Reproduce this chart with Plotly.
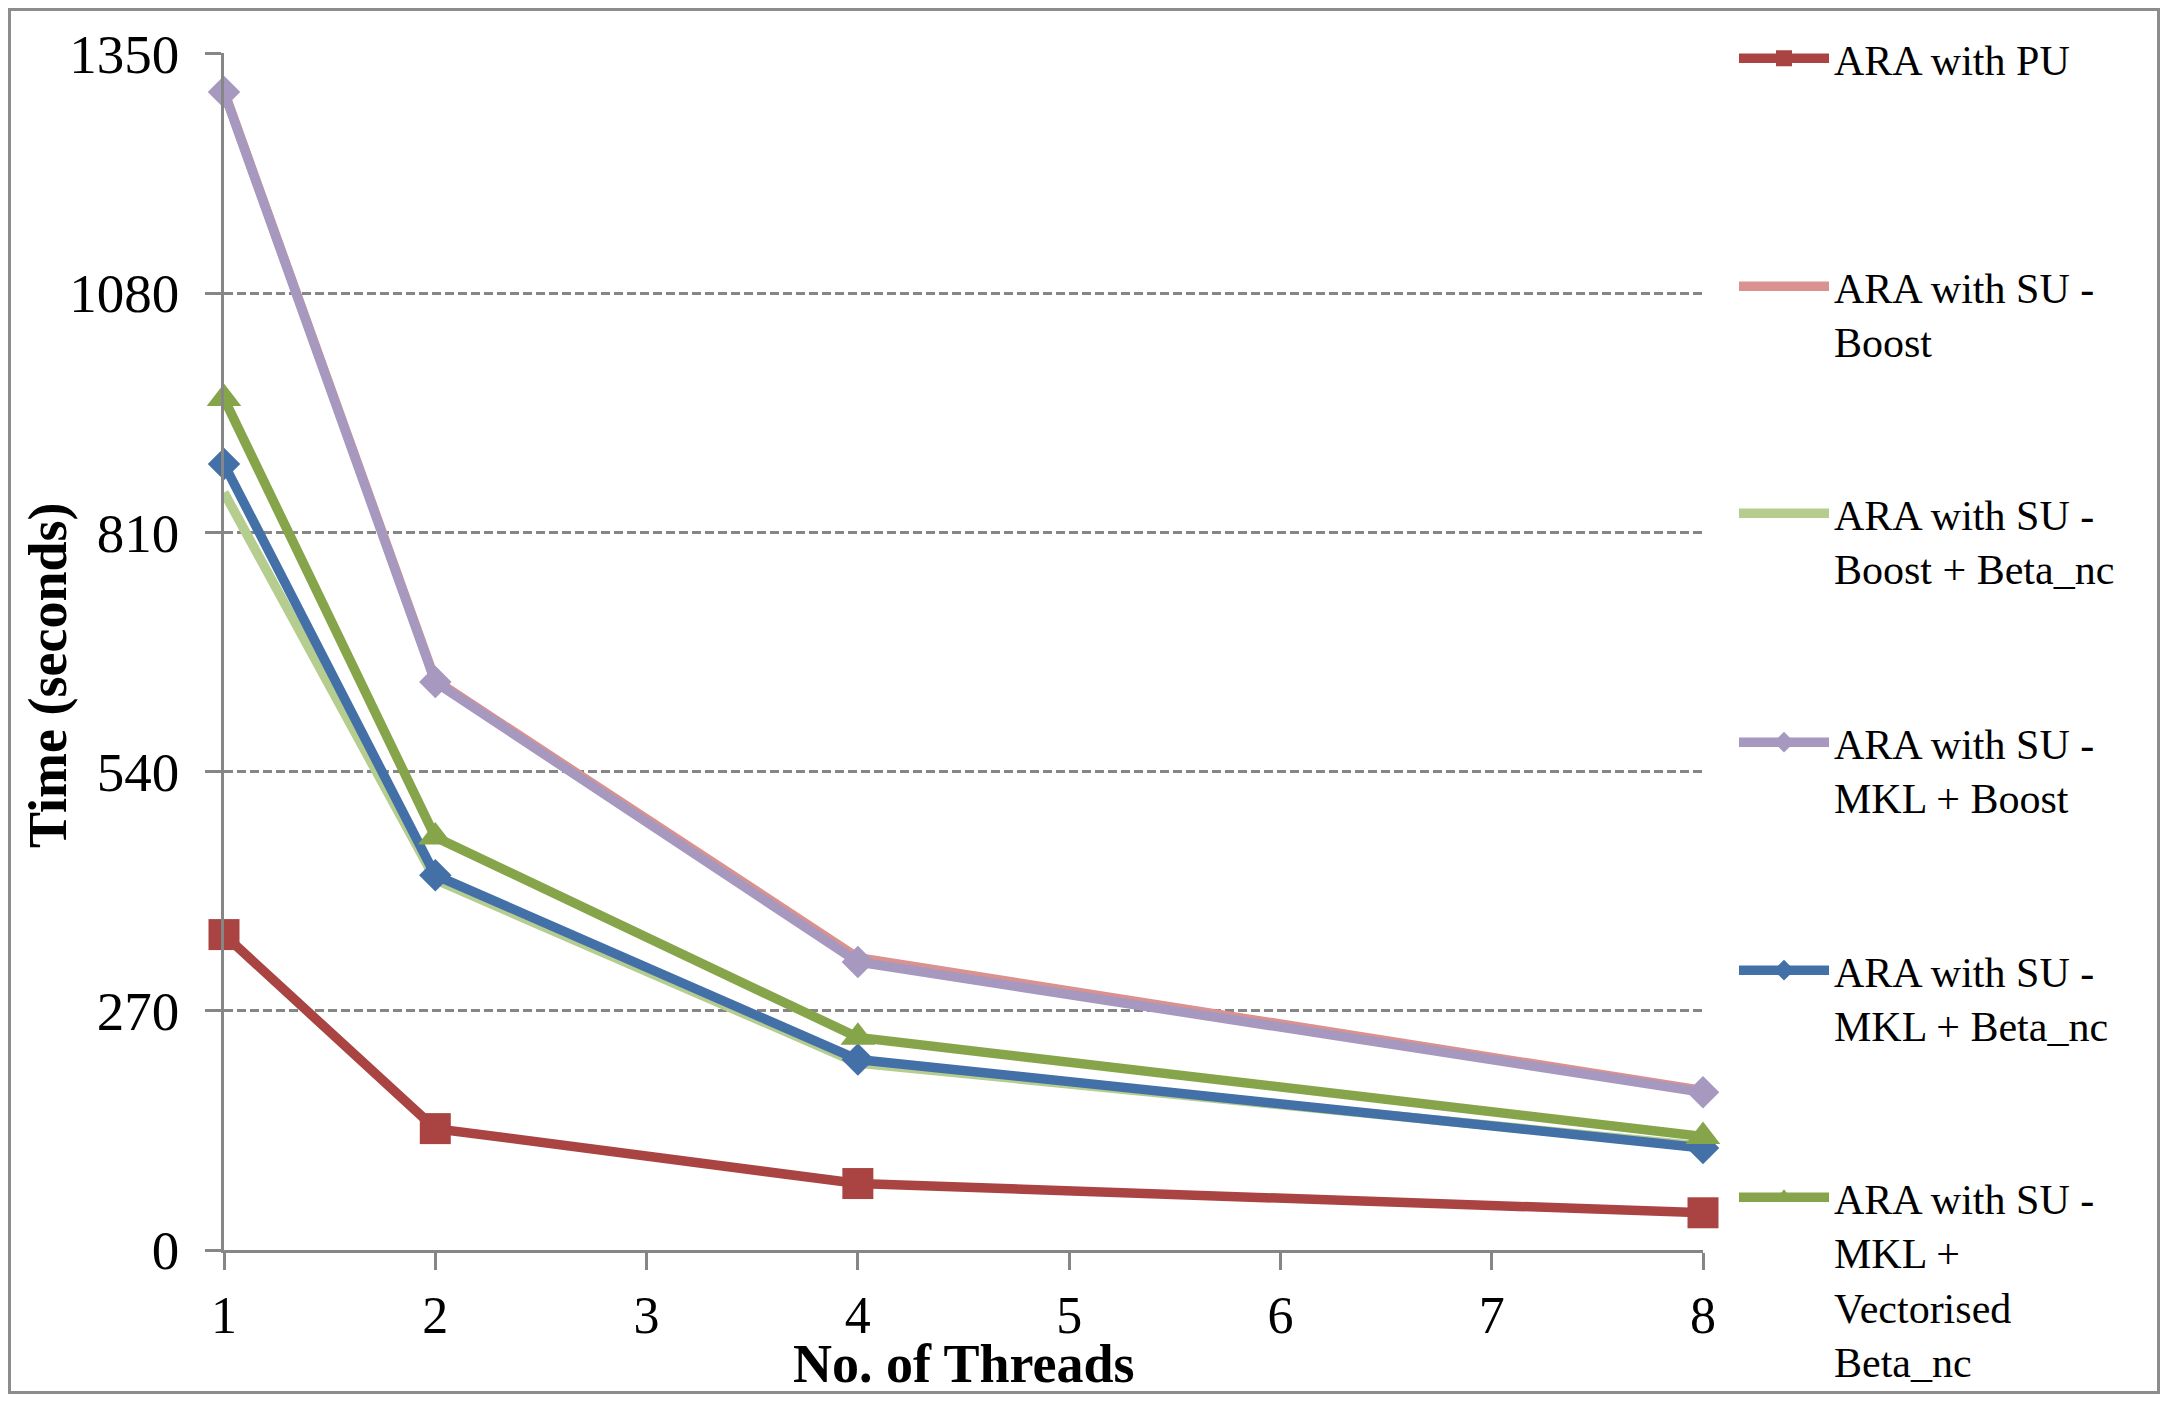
import plotly.graph_objects as go

# ---- data ----
threads = [1, 2, 4, 8]
series_names = [
    "ARA with PU",
    "ARA with SU -<br>Boost",
    "ARA with SU -<br>Boost + Beta_nc",
    "ARA with SU -<br>MKL + Boost",
    "ARA with SU -<br>MKL + Beta_nc",
    "ARA with SU -<br>MKL +<br>Vectorised<br>Beta_nc",
]
ara_pu = [356, 137, 75, 42]
su_boost = [1308, 643, 330, 180]
su_boost_beta = [855, 418, 211, 117]
su_mkl_boost = [1307, 641, 325, 178]
su_mkl_beta = [887, 423, 215, 115]
su_mkl_vec_beta = [961, 466, 240, 128]
x_ticks = [1, 2, 3, 4, 5, 6, 7, 8]
y_ticks = [0, 270, 540, 810, 1080, 1350]

values = [ara_pu, su_boost, su_boost_beta, su_mkl_boost, su_mkl_beta, su_mkl_vec_beta]
colors = ["#A94442", "#D99290", "#B5CD8F", "#A698BE", "#4470A8", "#86A54A"]
symbols = ["square", None, None, "diamond", "diamond", "triangle-up"]
msizes = [31, 0, 0, 25, 25, 30]

FONT = "Palatino Linotype, Book Antiqua, Palatino, Liberation Serif, serif"
OFF = 8                      # page body margin
W, H = 2168 - 2 * OFF, 1402 - 2 * OFF
PLOT_L, PLOT_R, PLOT_T, PLOT_B = 224, 1703, 53, 1250   # on-screen pixels
L = PLOT_L - OFF
T = PLOT_T - OFF
R = W - (PLOT_R - OFF)
B = H - (PLOT_B - OFF)
PW, PH = PLOT_R - PLOT_L, PLOT_B - PLOT_T

def py(real_y):
    return (PLOT_B - real_y) / PH

def px(real_x):
    return (real_x - PLOT_L) / PW

fig = go.Figure()
legend_centers = [61, 289, 516, 745, 973, 1200]
legend_keys = ["legend", "legend2", "legend3", "legend4", "legend5", "legend6"]
LEG_FONT = 42

for i, (name, vals) in enumerate(zip(series_names, values)):
    mode = "lines+markers" if symbols[i] else "lines"
    kw = dict(
        x=threads, y=vals, name=name, mode=mode,
        line=dict(color=colors[i], width=9.5),
        cliponaxis=False,
        legend=legend_keys[i],
    )
    if symbols[i]:
        kw["marker"] = dict(symbol=symbols[i], size=msizes[i], color=colors[i],
                            line=dict(width=0))
    fig.add_trace(go.Scatter(**kw))

layout_legends = {}
for i, key in enumerate(legend_keys):
    layout_legends[key] = dict(
        x=px(1734), xanchor="left",
        y=py(legend_centers[i] - 0.8 * LEG_FONT - 3), yanchor="top",
        valign="top",
        font=dict(family=FONT, size=LEG_FONT, color="#000000"),
        bgcolor="rgba(0,0,0,0)",
        itemwidth=90,
    )

axis_col = "#868686"
fig.update_layout(
    width=W, height=H,
    margin=dict(l=L, r=R, t=T, b=B, autoexpand=False),
    paper_bgcolor="white", plot_bgcolor="white",
    showlegend=True,
    **layout_legends,
    xaxis=dict(
        range=[1, 8], tickvals=x_ticks, ticktext=[str(v) for v in x_ticks],
        showgrid=False, zeroline=False,
        showline=True, linecolor=axis_col, linewidth=3,
        ticks="outside", ticklen=17, tickwidth=2.5, tickcolor=axis_col,
        tickfont=dict(family=FONT, size=52, color="#000000"),
        ticklabelstandoff=1,
    ),
    yaxis=dict(
        range=[0, 1351], tickvals=y_ticks, ticktext=[str(v) for v in y_ticks],
        showgrid=True, gridcolor=axis_col, gridwidth=2.5, griddash="9px,4px",
        zeroline=False,
        showline=True, linecolor=axis_col, linewidth=2.5,
        ticks="outside", ticklen=16, tickwidth=2.5, tickcolor=axis_col,
        tickfont=dict(family=FONT, size=55, color="#000000"),
        ticklabelstandoff=15,
    ),
    annotations=[
        dict(text="<b>No. of Threads</b>", xref="paper", yref="paper",
             x=0.5, y=py(1364), xanchor="center", yanchor="middle",
             showarrow=False, font=dict(family=FONT, size=54, color="#000000")),
        dict(text="<b>Time (seconds)</b>", xref="paper", yref="paper",
             x=px(48), y=py(675), xanchor="center", yanchor="middle",
             textangle=-90, showarrow=False,
             font=dict(family=FONT, size=54, color="#000000")),
    ],
    shapes=[
        dict(type="rect", xref="paper", yref="paper",
             x0=px(OFF + 1.5), x1=px(OFF + W - 1.5),
             y0=py(OFF + H - 1.5), y1=py(OFF + 1.5),
             line=dict(color="#8C8C8C", width=3), fillcolor="rgba(0,0,0,0)",
             layer="below"),
    ],
)

fig.write_html("out.html")
